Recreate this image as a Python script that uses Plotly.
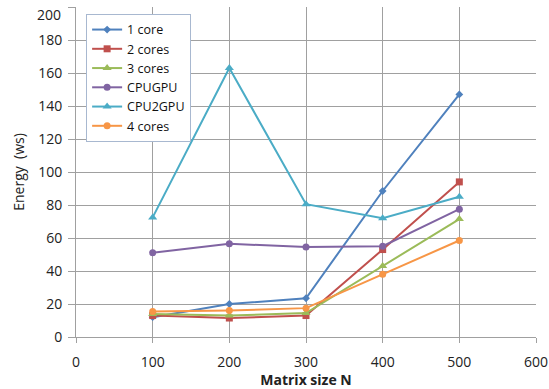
import plotly.graph_objects as go

x_vals = [100, 200, 300, 400, 500]
one_core = [12, 20, 23.5, 88.5, 147]
two_cores = [13, 11.5, 13, 53, 94]
three_cores = [14, 13, 14.5, 43, 71.5]
cpugpu = [51, 56.5, 54.5, 55, 77.5]
cpu2gpu = [72.5, 163, 80.5, 72, 85]
four_cores = [15.5, 16, 17.5, 38, 58.5]

y_ticks = [0, 20, 40, 60, 80, 100, 120, 140, 160, 180, 200]
y_tick_text = ["0", "20", "40", "60", "80", "100", "120", "140", "160", "180", ""]

series = [
    ("1 core", one_core, "#4F81BD", "diamond", 6),
    ("2 cores", two_cores, "#C0504D", "square", 7),
    ("3 cores", three_cores, "#9BBB59", "triangle-up", 8),
    ("CPUGPU", cpugpu, "#8064A2", "circle", 7),
    ("CPU2GPU", cpu2gpu, "#4BACC6", "triangle-up", 8),
    ("4 cores", four_cores, "#F79646", "circle", 7),
]

fig = go.Figure()
for name, ys, color, sym, size in series:
    fig.add_trace(go.Scatter(
        x=x_vals, y=ys, name=name, mode="lines+markers",
        line=dict(color=color, width=2),
        marker=dict(color=color, symbol=sym, size=size),
    ))

font = "Open Sans, Liberation Sans, sans-serif"
fig.update_layout(
    width=549, height=389,
    margin=dict(l=76, r=13, t=7, b=52),
    paper_bgcolor="white", plot_bgcolor="white",
    font=dict(family=font, size=14, color="#222"),
    showlegend=True,
    legend=dict(
        x=0.022, y=0.979, xanchor="left", yanchor="top",
        bgcolor="white", bordercolor="#A8B8D0", borderwidth=1,
        font=dict(size=12.5, color="#111"),
        tracegroupgap=0, itemwidth=30,
    ),
    xaxis=dict(
        range=[0, 600], dtick=100, tick0=0, automargin=False,
        showgrid=True, gridcolor="#A0A0A0", gridwidth=1,
        showline=True, linecolor="#A0A0A0", linewidth=1,
        ticks="outside", ticklen=5, tickcolor="#A0A0A0",
        ticklabelstandoff=7,
        zeroline=False,
        title=dict(text="<b>Matrix size N</b>", font=dict(size=14), standoff=7),
    ),
    yaxis=dict(
        range=[0, 200], tickvals=y_ticks, ticktext=y_tick_text, automargin=False,
        showgrid=True, gridcolor="#A0A0A0", gridwidth=1,
        showline=True, linecolor="#A0A0A0", linewidth=1,
        ticks="outside", ticklen=7, tickcolor="#A0A0A0",
        ticklabelstandoff=3,
        zeroline=False,
        title=dict(text="Energy  (ws)", font=dict(size=14), standoff=10),
    ),
    annotations=[dict(
        text="200", xref="paper", yref="y", x=0, y=200,
        xanchor="right", yanchor="middle", xshift=-13, yshift=-7,
        showarrow=False, font=dict(size=14, color="#222"),
    )],
)

fig.write_html("out.html")
